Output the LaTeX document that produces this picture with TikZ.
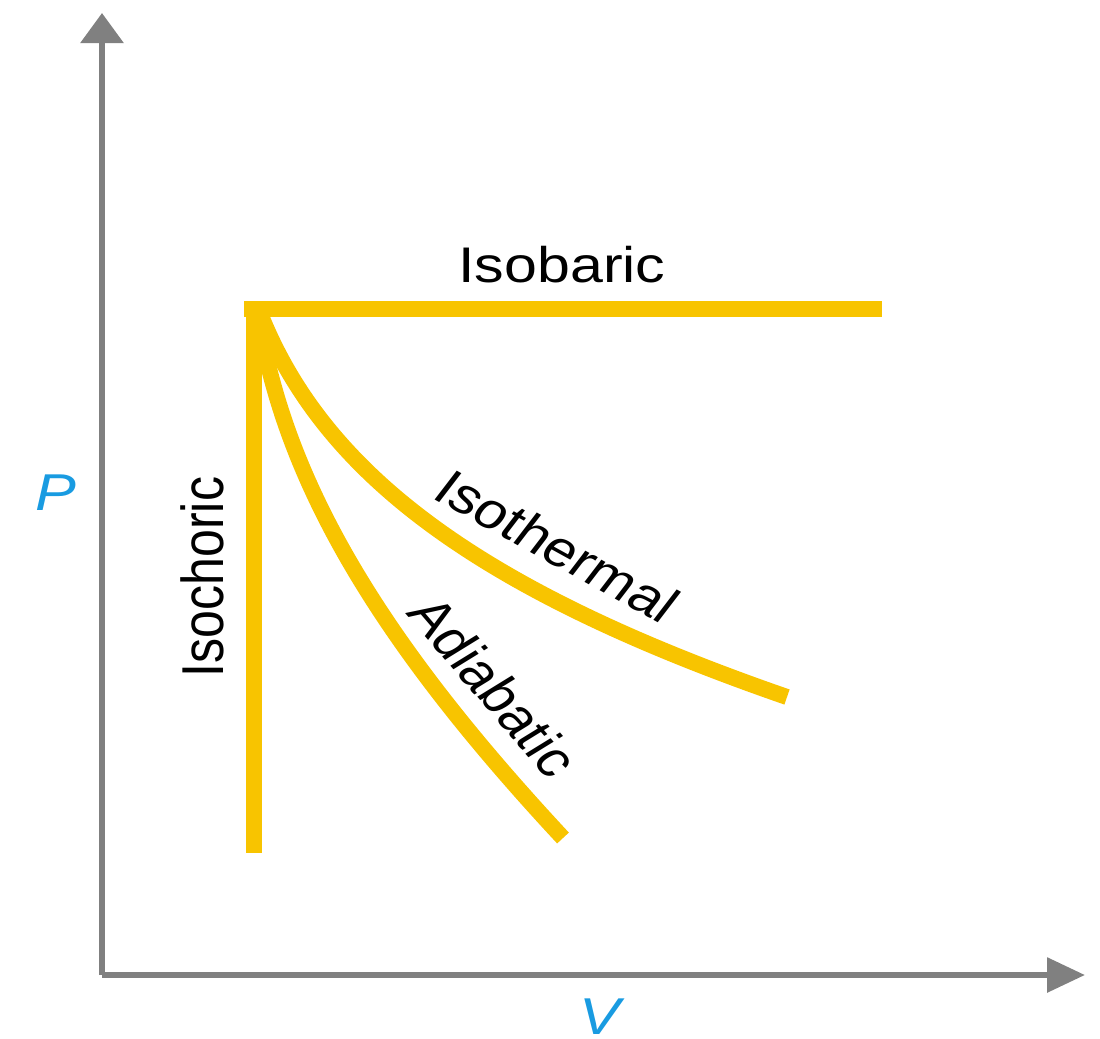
\documentclass[tikz,border=0pt]{standalone}
\usepackage{fontspec}
\setmainfont{Liberation Sans}
\usetikzlibrary{arrows.meta}
\definecolor{procyellow}{RGB}{248,196,0}
\definecolor{axisgray}{RGB}{128,128,128}
\definecolor{axisblue}{RGB}{25,155,225}
\begin{document}
\begin{tikzpicture}[x=0.02cm,y=-0.02cm,
  axisline/.style={draw=axisgray, line width=0.12cm},
  proc/.style={draw=procyellow, line width=0.32cm},
  lbl/.style={font=\fontsize{28.5}{30}\selectfont, text=black, inner sep=0pt, anchor=base, transform shape},
  axlbl/.style={font=\fontsize{29.5}{31}\selectfont\itshape, text=axisblue, inner sep=0pt, transform shape}]
\path[use as bounding box] (0,0) rectangle (1100,1039);

% axes
\coordinate (O) at (102,975);
\coordinate (Ytip) at (102,13);
\coordinate (Xtip) at (1085,975);
\draw[axisline, -{Triangle[length=0.6cm, width=0.84cm]}] (O) -- (Ytip);
\draw[axisline, -{Triangle[length=0.76cm, width=0.68cm]}] (O) -- (Xtip);

% curves
\coordinate (thstart) at (258,308);
\coordinate (thend) at (787,697);
\coordinate (adstart) at (257,308);
\coordinate (adend) at (563,838);
\draw[proc] (thstart) .. controls (322,475) and (481,591) .. (thend);
\draw[proc] (adstart) .. controls (282,476) and (374,635) .. (adend);

% isochoric and isobaric
\coordinate (vtop) at (253.5,301);
\coordinate (vbot) at (253.5,853);
\coordinate (hleft) at (244,308.5);
\coordinate (hright) at (882,308.5);
\draw[proc] (vtop) -- (vbot);
\draw[proc] (hleft) -- (hright);

% labels
\begin{scope}[shift={(562,282)}, xscale=1.18]
  \node[lbl] (isobaric) at (0,0) {Isobaric};
\end{scope}
\begin{scope}[shift={(223,577)}, xscale=1.18]
  \node[lbl, rotate=90] (isochoric) at (0,0) {Isochoric};
\end{scope}
\begin{scope}[shift={(546,561)}, xscale=1.18]
  \node[lbl, rotate=-33] (isothermal) at (0,0) {Isothermal};
\end{scope}
\begin{scope}[shift={(477,697)}, xscale=1.18]
  \node[lbl, rotate=-54] (adiabatic) at (0,0) {Adiabatic};
\end{scope}
\begin{scope}[shift={(56,493)}, xscale=1.18]
  \node[axlbl] (P) at (0,0) {P};
\end{scope}
\begin{scope}[shift={(600,1017)}, xscale=1.18]
  \node[axlbl] (V) at (0,0) {V};
\end{scope}
\end{tikzpicture}
\end{document}
